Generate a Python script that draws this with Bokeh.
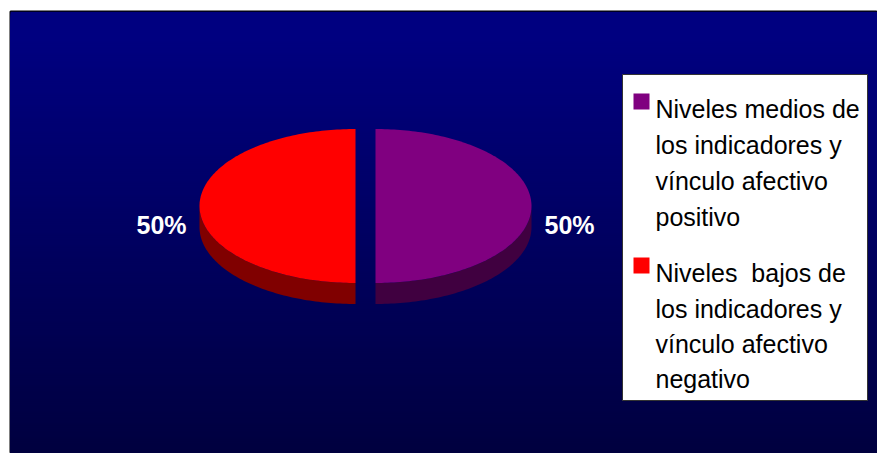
import numpy as np
from bokeh.plotting import figure
from bokeh.models import Range1d
from bokeh.core.properties import value
from bokeh.embed import file_html
from bokeh.resources import INLINE

# ---- data ----
categories = ["Niveles medios de los indicadores y vínculo afectivo positivo",
              "Niveles  bajos de los indicadores y vínculo afectivo negativo"]
values = [50, 50]
labels = ["50%", "50%"]
legend_lines = [["Niveles medios de", "los indicadores y", "vínculo afectivo", "positivo"],
                ["Niveles  bajos de", "los indicadores y", "vínculo afectivo", "negativo"]]
top_colors = ["#800080", "#FF0000"]
side_colors = ["#400040", "#800000"]

FONT = "Liberation Sans"
W, H = 877, 453
L, T = 10, 11

p = figure(width=W, height=H, output_backend="svg", toolbar_location=None,
           x_range=Range1d(L, W), y_range=Range1d(H, T),
           min_border_left=L, min_border_top=T, min_border_right=0, min_border_bottom=0)
p.axis.visible = False
p.grid.visible = False
p.border_fill_color = "white"
p.background_fill_color = "#000040"
p.outline_line_color = "black"
p.outline_line_width = 2

# background gradient (stacked bands, each running to the bottom)
ys = np.arange(T, H + 1, 2)
t = np.clip((ys - 40) / (461 - 40), 0, 1)
blues = (128 - 66 * t).astype(int)
grad_cols = ["#0000%02x" % b for b in blues]
p.quad(left=0, right=900, top=ys, bottom=H + 10, fill_color=grad_cols, line_color=None)

# pie geometry
cx, cy, a, b, depth, explode = 365, 205.5, 156, 77, 21, 10
total = float(sum(values))
cum = np.concatenate([[0], np.cumsum(values)])
for i, v in enumerate(values):
    t0 = np.radians(90 - cum[i] / total * 360)
    t1 = np.radians(90 - cum[i + 1] / total * 360)
    m = (t0 + t1) / 2
    dx = explode * np.cos(m)
    dy = -explode * np.sin(m) * b / a
    ox, oy = cx + dx, cy + dy
    lo, hi = min(t0, t1), max(t0, t1)
    best = None
    for k in (-2, -1, 0, 1):
        s0, s1 = lo + k * 2 * np.pi, hi + k * 2 * np.pi
        f0, f1 = max(s0, -np.pi), min(s1, 0)
        if f1 > f0:
            best = (f0, f1)
    if best:
        tt = np.linspace(best[0], best[1], 80)
        xs = ox + a * np.cos(tt)
        yt = oy - b * np.sin(tt)
        px = np.concatenate([xs, xs[::-1]])
        py = np.concatenate([yt, (yt + depth)[::-1]])
        p.patch(px, py, fill_color=side_colors[i], line_color=None)
    tt = np.linspace(t0, t1, 160)
    px = np.concatenate([[ox], ox + a * np.cos(tt)])
    py = np.concatenate([[oy], oy - b * np.sin(tt)])
    p.patch(px, py, fill_color=top_colors[i], line_color=None)
    lx = ox + (a + 38) * np.cos(m)
    ly = cy + 19
    p.text(x=[lx], y=[ly], text=[labels[i]], text_color="white", text_font=value(FONT),
           text_font_style="bold", text_font_size="25px", text_align="center",
           text_baseline="middle")

# legend
p.quad(left=[622], right=[867], top=[74], bottom=[400], fill_color="white",
       line_color="#333333", line_width=1)
sw_top = [93, 257]
base = [[108, 144, 180, 216], [272, 308, 343, 378]]
for i in range(len(values)):
    p.quad(left=[633], right=[649], top=[sw_top[i]], bottom=[sw_top[i] + 16],
           fill_color=top_colors[i], line_color=None)
    shown = [s.replace("  ", " \u00a0") for s in legend_lines[i]]
    p.text(x=[655] * 4, y=base[i], text=shown, text_color="black",
           text_font=value(FONT), text_font_size="25px", text_align="left",
           text_baseline="alphabetic")

open("out.html", "w").write(file_html(p, INLINE))
